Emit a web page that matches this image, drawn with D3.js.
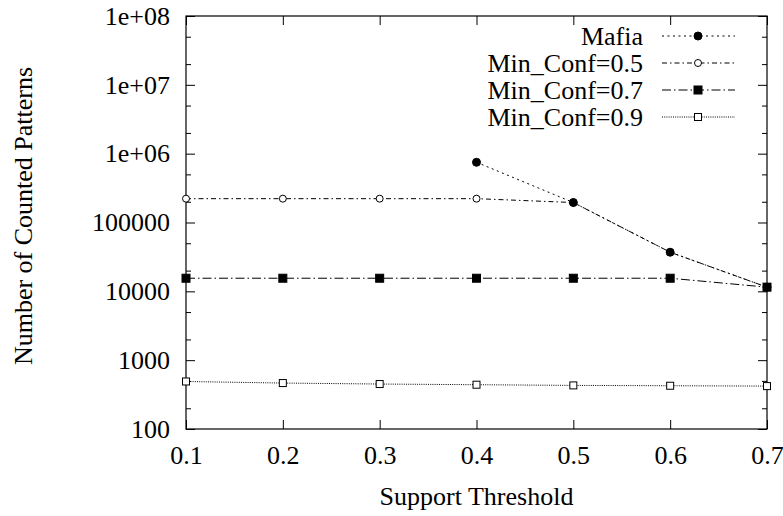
<!DOCTYPE html>
<html>
<head>
<meta charset="utf-8">
<script src="https://cdn.jsdelivr.net/npm/d3@7"></script>
<style>
    body { margin: 0; background: #fff; }
    svg text { font-family: "Liberation Serif", "Times New Roman", Times, "DejaVu Serif", serif !important; font-size: 26px; fill: #000; }
    .axis line { stroke: #000; stroke-width: 1; }
    .axis path { display: none; }
</style>
</head>
<body>
<svg id="chart" width="783" height="516"></svg>
<script>
// Data
var thresholds = [0.1, 0.2, 0.3, 0.4, 0.5, 0.6, 0.7];
var xTickLabels = ["0.1", "0.2", "0.3", "0.4", "0.5", "0.6", "0.7"];
var yTickValues = [1e2, 1e3, 1e4, 1e5, 1e6, 1e7, 1e8];
var yTickLabels = ["100", "1000", "10000", "100000", "1e+06", "1e+07", "1e+08"];

var mafia = [null, null, null, 750000, 195000, 37000, 11500];
var conf05 = [222000, 222000, 222000, 222000, 195000, 37000, 11500];
var conf07 = [15500, 15500, 15500, 15500, 15500, 15500, 11500];
var conf09 = [490, 465, 450, 440, 430, 425, 420];

var seriesNames = ["Mafia", "Min_Conf=0.5", "Min_Conf=0.7", "Min_Conf=0.9"];

var serif = "'Liberation Serif', 'Times New Roman', Times, 'DejaVu Serif', serif";

var svg1 = d3.select("#chart");
svg1.append("rect").attr("width", 783).attr("height", 516).attr("fill", "#fff");

var margin = {left: 186, top: 16, right: 16, bottom: 87};
var width = 783 - margin.left - margin.right;
var height = 516 - margin.top - margin.bottom;

var x = d3.scaleLinear()
    .domain([0.1, 0.7])
    .range([margin.left, margin.left + width]);

var y = d3.scaleLog()
    .domain([100, 1e8])
    .range([margin.top + height, margin.top]);

// minor ticks at 2x and 5x of each decade
var minorTicks = [];
yTickValues.slice(0, -1).forEach(function (v) {
    minorTicks.push(v * 2, v * 5);
});

// Left axis with labels, ticks pointing inward
svg1.append("g")
    .attr("class", "axis")
    .attr("transform", "translate(" + margin.left + ",0)")
    .call(d3.axisLeft(y).tickValues(yTickValues)
        .tickFormat(function (d, i) { return yTickLabels[i]; })
        .tickSizeInner(-9).tickSizeOuter(0).tickPadding(16));

svg1.append("g")
    .attr("class", "axis")
    .attr("transform", "translate(" + margin.left + ",0)")
    .call(d3.axisLeft(y).tickValues(minorTicks).tickFormat("").tickSizeInner(-5).tickSizeOuter(0));

// Right mirror ticks
svg1.append("g")
    .attr("class", "axis")
    .attr("transform", "translate(" + (margin.left + width) + ",0)")
    .call(d3.axisRight(y).tickValues(yTickValues).tickFormat("").tickSizeInner(-9).tickSizeOuter(0));

svg1.append("g")
    .attr("class", "axis")
    .attr("transform", "translate(" + (margin.left + width) + ",0)")
    .call(d3.axisRight(y).tickValues(minorTicks).tickFormat("").tickSizeInner(-5).tickSizeOuter(0));

// Bottom axis with labels
svg1.append("g")
    .attr("class", "axis")
    .attr("transform", "translate(0," + (margin.top + height) + ")")
    .call(d3.axisBottom(x).tickValues(thresholds)
        .tickFormat(function (d, i) { return xTickLabels[i]; })
        .tickSizeInner(-9).tickSizeOuter(0).tickPadding(17));

// Top mirror ticks
svg1.append("g")
    .attr("class", "axis")
    .attr("transform", "translate(0," + margin.top + ")")
    .call(d3.axisTop(x).tickValues(thresholds).tickFormat("").tickSizeInner(-9).tickSizeOuter(0));

svg1.selectAll(".axis").attr("font-family", serif).attr("font-size", 26);

// Frame
svg1.append("rect")
    .attr("x", margin.left)
    .attr("y", margin.top)
    .attr("width", width)
    .attr("height", height)
    .attr("fill", "none")
    .attr("stroke", "#000")
    .attr("stroke-width", 1.2);

// Axis titles
svg1.append("text")
    .attr("x", (margin.left + margin.left + width) / 2)
    .attr("y", 505)
    .style("text-anchor", "middle")
    .text("Support Threshold");

svg1.append("text")
    .attr("transform", "translate(32," + 216 + ") rotate(-90)")
    .style("text-anchor", "middle")
    .text("Number of Counted Patterns");

// Series
var series = [
    {name: seriesNames[0], values: mafia, dash: "2,3.5", marker: "circle", fill: "#000"},
    {name: seriesNames[1], values: conf05, dash: "5,3,1.5,3", marker: "circle", fill: "#fff"},
    {name: seriesNames[2], values: conf07, dash: "9,3,1.5,3", marker: "square", fill: "#000"},
    {name: seriesNames[3], values: conf09, dash: "1,1.2", marker: "square", fill: "#fff"}
];

var line = d3.line()
    .defined(function (d) { return d.v != null; })
    .x(function (d) { return x(d.t); })
    .y(function (d) { return y(d.v); });

function drawMarker(g, type, fill, cx, cy) {
    if (type === "circle") {
        g.append("circle")
            .attr("cx", cx).attr("cy", cy)
            .attr("r", fill === "#000" ? 4 : 3.5)
            .attr("fill", fill)
            .attr("stroke", "#000")
            .attr("stroke-width", 1);
    } else {
        var s = fill === "#000" ? 8 : 7;
        g.append("rect")
            .attr("x", cx - s / 2).attr("y", cy - s / 2)
            .attr("width", s).attr("height", s)
            .attr("fill", fill)
            .attr("stroke", "#000")
            .attr("stroke-width", 1);
    }
}

// draw from last to first so Mafia sits on top
series.slice().reverse().forEach(function (s) {
    var pts = thresholds.map(function (t, i) { return {t: t, v: s.values[i]}; });
    var g = svg1.append("g");
    g.append("path")
        .attr("d", line(pts))
        .attr("fill", "none")
        .attr("stroke", "#000")
        .attr("stroke-width", 1)
        .attr("stroke-dasharray", s.dash);
    pts.filter(function (d) { return d.v != null; }).forEach(function (d) {
        drawMarker(g, s.marker, s.fill, x(d.t), y(d.v));
    });
});

// Legend
var legendRows = [36, 63, 90, 117];
series.forEach(function (s, i) {
    var g = svg1.append("g");
    g.append("text")
        .attr("x", 643)
        .attr("y", legendRows[i] + 9)
        .style("text-anchor", "end")
        .text(s.name);
    g.append("line")
        .attr("x1", 662).attr("x2", 735)
        .attr("y1", legendRows[i]).attr("y2", legendRows[i])
        .attr("stroke", "#000")
        .attr("stroke-width", 1)
        .attr("stroke-dasharray", s.dash);
    drawMarker(g, s.marker, s.fill, 698, legendRows[i]);
});

svg1.selectAll("text").style("font-family", serif);
</script>
</body>
</html>
